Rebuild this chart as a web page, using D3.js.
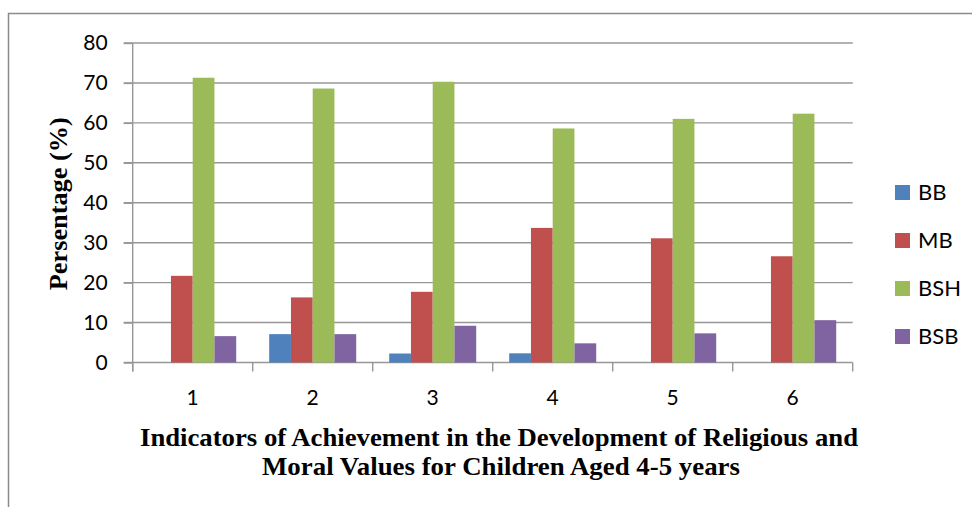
<!DOCTYPE html>
<html>
<head>
<meta charset="utf-8">
<script src="https://cdn.jsdelivr.net/npm/d3@7"></script>
<style>
  html, body { margin: 0; padding: 0; background: #fff; }
  svg { display: block; }
</style>
</head>
<body>
<svg id="chart" width="972" height="507"></svg>
<script>
const categories = ["1", "2", "3", "4", "5", "6"];
const seriesNames = ["BB", "MB", "BSH", "BSB"];
const BB  = [0, 7.1, 2.25, 2.3, 0, 0];
const MB  = [21.7, 16.3, 17.7, 33.7, 31.1, 26.6];
const BSH = [71.3, 68.6, 70.3, 58.6, 61.0, 62.3];
const BSB = [6.6, 7.1, 9.2, 4.8, 7.3, 10.6];
const yTicks = [0, 10, 20, 30, 40, 50, 60, 70, 80];
const colors = ["#4F81BD", "#C0504D", "#9BBB59", "#8064A2"];
const xTitleLines = ["Indicators of Achievement in the Development of Religious and",
                     "Moral Values for Children Aged 4-5 years"];
const yTitle = "Persentage (%)";

const seriesValues = [BB, MB, BSH, BSB];

const svg = d3.select("#chart");
const pLeft = 132.7, pRight = 852.7, pTop = 43, pBottom = 362.5;
const gridColor = "#979797";

// frame (only top and left edges visible)
svg.append("rect").attr("x", 8.5).attr("y", 13.5).attr("width", 1000).attr("height", 600)
  .attr("fill", "none").attr("stroke", "#8a8a8a").attr("stroke-width", 1.5);

const x0 = d3.scaleBand().domain(categories).range([pLeft, pRight]).paddingInner(0).paddingOuter(0);
const x1 = d3.scaleBand().domain(seriesNames).range([16.5, 103.5]).padding(0);
const y = d3.scaleLinear().domain([0, 80]).range([pBottom, pTop]);
const color = d3.scaleOrdinal().domain(seriesNames).range(colors);

// gridlines
svg.append("g").selectAll("line").data(yTicks.filter(d => d > 0)).join("line")
  .attr("x1", pLeft - 9).attr("x2", pRight)
  .attr("y1", d => y(d)).attr("y2", d => y(d))
  .attr("stroke", gridColor).attr("stroke-width", 1.4);

// y axis
const yAxis = d3.axisLeft(y).tickValues(yTicks).tickSize(9).tickPadding(16);
const gy = svg.append("g").attr("transform", `translate(${pLeft},0)`).call(yAxis);
gy.select(".domain").remove();
gy.selectAll(".tick line").attr("stroke", gridColor).attr("stroke-width", 1.4);
gy.selectAll(".tick text").attr("font-family", "Lato, 'Open Sans', sans-serif")
  .attr("font-size", 21).attr("fill", "#000");
svg.append("line").attr("x1", pLeft).attr("x2", pLeft).attr("y1", pTop).attr("y2", pBottom + 9)
  .attr("stroke", gridColor).attr("stroke-width", 1.4);

// x axis
const xAxis = d3.axisBottom(x0).tickSize(0).tickPadding(28);
const gx = svg.append("g").attr("transform", `translate(0,${pBottom})`).call(xAxis);
gx.select(".domain").remove();
gx.selectAll(".tick text").attr("font-family", "Lato, 'Open Sans', sans-serif")
  .attr("font-size", 21).attr("fill", "#000");
svg.append("line").attr("x1", pLeft - 9).attr("x2", pRight).attr("y1", pBottom).attr("y2", pBottom)
  .attr("stroke", gridColor).attr("stroke-width", 1.4);
svg.append("g").selectAll("line").data(categories.concat(["end"])).join("line")
  .attr("x1", (d, i) => i < categories.length ? x0(d) : pRight)
  .attr("x2", (d, i) => i < categories.length ? x0(d) : pRight)
  .attr("y1", pBottom).attr("y2", pBottom + 9)
  .attr("stroke", gridColor).attr("stroke-width", 1.4);

// bars
const groups = svg.append("g").selectAll("g").data(categories).join("g")
  .attr("transform", d => `translate(${x0(d)},0)`);
groups.selectAll("rect")
  .data((c, ci) => seriesNames.map((s, si) => ({ s, v: seriesValues[si][ci] })))
  .join("rect")
  .attr("x", d => x1(d.s))
  .attr("width", x1.bandwidth())
  .attr("y", d => y(d.v))
  .attr("height", d => y(0) - y(d.v))
  .attr("fill", d => color(d.s));

// legend
const lg = svg.append("g").selectAll("g").data(seriesNames).join("g")
  .attr("transform", (d, i) => `translate(895,${185 + i * 48})`);
lg.append("rect").attr("width", 15).attr("height", 15).attr("fill", d => color(d));
lg.append("text").attr("x", 23).attr("y", 7.5).attr("dy", "0.36em")
  .attr("font-family", "Lato, 'Open Sans', sans-serif").attr("font-size", 22)
  .attr("fill", "#000").text(d => d);

// x title
const xt = svg.append("g");
xt.selectAll("text").data(xTitleLines).join("text")
  .attr("x", (d, i) => i === 0 ? 499 : 501)
  .attr("y", (d, i) => 446 + i * 29)
  .attr("text-anchor", "middle")
  .attr("font-family", "'Liberation Serif', 'Times New Roman', serif")
  .attr("font-weight", "bold").attr("font-size", 26)
  .attr("textLength", (d, i) => i === 0 ? 718 : 478)
  .attr("lengthAdjust", "spacingAndGlyphs")
  .attr("fill", "#000").text(d => d);

// y title
svg.append("text")
  .attr("transform", `translate(67,${(pTop + pBottom) / 2 + 1}) rotate(-90)`)
  .attr("text-anchor", "middle")
  .attr("font-family", "'Liberation Serif', 'Times New Roman', serif")
  .attr("font-weight", "bold").attr("font-size", 25)
  .attr("textLength", 173).attr("lengthAdjust", "spacingAndGlyphs")
  .attr("fill", "#000").text(yTitle);
</script>
</body>
</html>
